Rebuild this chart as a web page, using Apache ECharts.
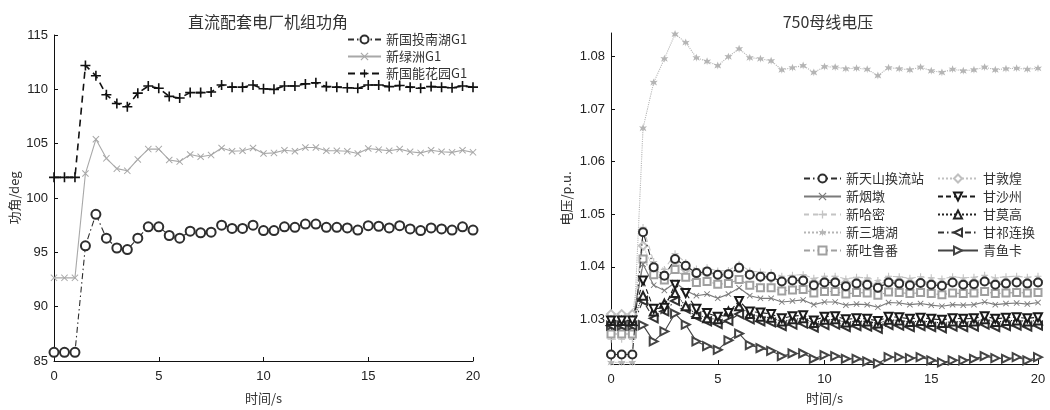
<!DOCTYPE html>
<html>
<head>
<meta charset="utf-8">
<script src="https://cdn.jsdelivr.net/npm/echarts@6/dist/echarts.min.js"></script>
<style>html,body{margin:0;padding:0;background:#fff}#c{width:1050px;height:410px}</style>
</head>
<body>
<div id="c"></div>
<script>
// ---------- data ----------
const times = [0,0.5,1,1.5,2,2.5,3,3.5,4,4.5,5,5.5,6,6.5,7,7.5,8,8.5,9,9.5,10,10.5,11,11.5,12,12.5,13,13.5,14,14.5,15,15.5,16,16.5,17,17.5,18,18.5,19,19.5,20];
const xTicks = [0,5,10,15,20];
const leftYTicks = [85,90,95,100,105,110,115];
const rightYTicks = [1.03,1.04,1.05,1.06,1.07,1.08];

const leftTitle = '直流配套电厂机组功角';
const rightTitle = '750母线电压';
const leftNames = ['新国投南湖G1','新绿洲G1','新国能花园G1'];
const rightNamesCol1 = ['新天山换流站','新烟墩','新哈密','新三塘湖','新吐鲁番'];
const rightNamesCol2 = ['甘敦煌','甘沙州','甘莫高','甘祁连换','青鱼卡'];

const nanhu = [85.8,85.8,85.8,95.6,98.5,96.3,95.4,95.25,96.3,97.35,97.35,96.55,96.3,96.95,96.8,96.85,97.5,97.2,97.2,97.5,97.0,97.0,97.35,97.3,97.6,97.6,97.3,97.3,97.25,97.05,97.45,97.4,97.25,97.45,97.15,97.0,97.25,97.15,97.05,97.35,97.05];
const lvzhou = [92.65,92.65,92.65,102.25,105.4,103.65,102.7,102.5,103.55,104.5,104.5,103.5,103.35,104.0,103.8,103.95,104.6,104.3,104.35,104.6,104.1,104.15,104.4,104.3,104.65,104.65,104.35,104.35,104.3,104.1,104.55,104.45,104.35,104.5,104.25,104.15,104.4,104.25,104.2,104.4,104.2];
const huayuan = [101.9,101.9,101.9,112.2,111.25,109.5,108.7,108.4,109.65,110.3,110.1,109.35,109.2,109.7,109.7,109.75,110.4,110.2,110.2,110.4,110.05,110.0,110.3,110.3,110.5,110.6,110.25,110.2,110.15,110.1,110.4,110.4,110.25,110.35,110.2,110.1,110.25,110.2,110.15,110.3,110.2];

const tianshan = [1.0233,1.0233,1.0233,1.0466,1.0399,1.0383,1.0415,1.0402,1.0388,1.0391,1.0385,1.0386,1.0398,1.0385,1.0381,1.0381,1.0372,1.0374,1.0374,1.0365,1.0370,1.0370,1.0363,1.0368,1.0366,1.0360,1.0370,1.0368,1.0365,1.0369,1.0366,1.0364,1.0370,1.0366,1.0367,1.0372,1.0366,1.0368,1.0370,1.0368,1.0370];
const yandun = [1.0295,1.0295,1.0295,1.0405,1.0365,1.0355,1.0370,1.0355,1.0345,1.0348,1.0340,1.0348,1.0360,1.0345,1.0340,1.0340,1.0333,1.0335,1.0337,1.0328,1.0333,1.0333,1.0327,1.0329,1.0328,1.0323,1.0332,1.0331,1.0328,1.0330,1.0327,1.0325,1.0328,1.0327,1.0328,1.0333,1.0328,1.0330,1.0331,1.0329,1.0332];
const hami = [1.0262,1.0262,1.0262,1.0475,1.0410,1.0395,1.0425,1.0408,1.0396,1.0398,1.0392,1.0393,1.0405,1.0392,1.0390,1.0389,1.0382,1.0384,1.0385,1.0378,1.0382,1.0382,1.0377,1.0380,1.0379,1.0374,1.0382,1.0381,1.0378,1.0381,1.0379,1.0377,1.0381,1.0379,1.0380,1.0384,1.0379,1.0381,1.0382,1.0380,1.0382];
const santanghu = [1.0218,1.0218,1.0218,1.0664,1.0751,1.0796,1.0843,1.0827,1.0798,1.0791,1.0783,1.0800,1.0815,1.0798,1.0796,1.0792,1.0775,1.0779,1.0783,1.0770,1.0781,1.0780,1.0777,1.0778,1.0776,1.0764,1.0779,1.0777,1.0775,1.0780,1.0773,1.0770,1.0776,1.0773,1.0775,1.0780,1.0775,1.0777,1.0778,1.0776,1.0778];
const turpan = [1.0272,1.0272,1.0272,1.0415,1.0385,1.0375,1.0395,1.0380,1.0370,1.0372,1.0367,1.0368,1.0376,1.0365,1.0360,1.0360,1.0354,1.0356,1.0357,1.0350,1.0353,1.0353,1.0348,1.0351,1.0350,1.0346,1.0352,1.0351,1.0349,1.0351,1.0349,1.0347,1.0350,1.0349,1.0350,1.0353,1.0349,1.0350,1.0351,1.0350,1.0351];
const dunhuang = [1.0310,1.0310,1.0310,1.0440,1.0395,1.0385,1.0410,1.0395,1.0385,1.0387,1.0382,1.0383,1.0400,1.0385,1.0380,1.0378,1.0372,1.0375,1.0376,1.0370,1.0374,1.0374,1.0369,1.0372,1.0371,1.0366,1.0374,1.0373,1.0370,1.0372,1.0370,1.0368,1.0372,1.0370,1.0371,1.0375,1.0370,1.0372,1.0373,1.0371,1.0373];
const shazhou = [1.0298,1.0298,1.0298,1.0374,1.0320,1.0322,1.0366,1.0350,1.0320,1.0312,1.0305,1.0312,1.0335,1.0315,1.0313,1.0310,1.0302,1.0306,1.0308,1.0298,1.0305,1.0306,1.0300,1.0302,1.0301,1.0297,1.0305,1.0304,1.0301,1.0303,1.0301,1.0299,1.0302,1.0301,1.0302,1.0306,1.0301,1.0303,1.0304,1.0302,1.0304];
const mogao = [1.0297,1.0297,1.0297,1.0345,1.0315,1.0330,1.0350,1.0325,1.0310,1.0302,1.0300,1.0315,1.0325,1.0310,1.0305,1.0303,1.0296,1.0300,1.0302,1.0293,1.0299,1.0300,1.0294,1.0297,1.0296,1.0292,1.0299,1.0298,1.0295,1.0297,1.0295,1.0293,1.0296,1.0295,1.0296,1.0300,1.0295,1.0297,1.0298,1.0296,1.0298];
const qilian = [1.0288,1.0288,1.0288,1.0335,1.0302,1.0315,1.0335,1.0320,1.0305,1.0296,1.0291,1.0297,1.0310,1.0300,1.0296,1.0294,1.0287,1.0290,1.0292,1.0284,1.0289,1.0290,1.0285,1.0287,1.0286,1.0282,1.0289,1.0288,1.0285,1.0287,1.0285,1.0283,1.0286,1.0285,1.0286,1.0290,1.0285,1.0287,1.0288,1.0286,1.0288];
const qingyuka = [1.0288,1.0288,1.0288,1.0289,1.0258,1.0277,1.0311,1.0290,1.0258,1.0249,1.0242,1.0260,1.0273,1.0251,1.0245,1.0240,1.0230,1.0235,1.0235,1.0225,1.0232,1.0230,1.0225,1.0225,1.0220,1.0216,1.0228,1.0228,1.0226,1.0228,1.0222,1.0218,1.0222,1.0222,1.0225,1.0230,1.0226,1.0225,1.0228,1.0222,1.0228];

// ---------- styling ----------
const PLUS = 'path://M4.2,0H5.8V4.2H10V5.8H5.8V10H4.2V5.8H0V4.2H4.2Z';
const CROSS = 'path://M1,0L5,4L9,0L10,1L6,5L10,9L9,10L5,6L1,10L0,9L4,5L0,1Z';
const STAR = 'path://M5,0L6.3,3.4L10,2.8L7.6,5.3L9.2,8.8L5.8,7L5,10L4.2,7L0.8,8.8L2.4,5.3L0,2.8L3.7,3.4Z';
const DASHDOT = [6,3,1.5,3];
const FONT = '"Liberation Sans", Arial, sans-serif';
const CJK = '"Noto Sans CJK SC", sans-serif';

function pairs(arr){ return times.map((t,i)=>[t,arr[i]]); }

function mk(name, data, xi, color, lineType, symbol, size, opts){
  opts = opts || {};
  return {
    name, type:'line', xAxisIndex:xi, yAxisIndex:xi, data:pairs(data),
    symbol, symbolSize:size, showAllSymbol:true, symbolRotate: opts.rotate || 0,
    lineStyle:{color, width: opts.lw || 1.1, type: lineType},
    itemStyle:{color: opts.fill || color, borderColor: color, borderWidth: opts.bw != null ? opts.bw : 1.3},
    emphasis:{disabled:true}, z: opts.z || 2
  };
}

const series = [
  mk(leftNames[0], nanhu, 0, '#2e2e2e', DASHDOT, 'emptyCircle', 9, {bw:1.6}),
  mk(leftNames[1], lvzhou, 0, '#a8a8a8', 'solid', CROSS, 7, {bw:0}),
  mk(leftNames[2], huayuan, 0, '#111111', [7,5], PLUS, 10, {bw:0, lw:1.6}),

  mk(rightNamesCol1[3], santanghu, 1, '#b5b5b5', 'dotted', STAR, 8, {bw:0}),
  mk(rightNamesCol1[2], hami, 1, '#c4c4c4', [5,4], PLUS, 7, {bw:0}),
  mk(rightNamesCol2[0], dunhuang, 1, '#c0c0c0', 'dotted', 'emptyDiamond', 8, {bw:1}),
  mk(rightNamesCol1[4], turpan, 1, '#a0a0a0', DASHDOT, 'emptyRect', 7, {bw:1.1}),
  mk(rightNamesCol1[1], yandun, 1, '#7a7a7a', 'solid', CROSS, 6, {bw:0}),
  mk(rightNamesCol1[0], tianshan, 1, '#2e2e2e', DASHDOT, 'emptyCircle', 8, {bw:1.5, z:3}),
  mk(rightNamesCol2[4], qingyuka, 1, '#444444', 'solid', 'emptyTriangle', 8, {bw:1.2, rotate:-90}),
  mk(rightNamesCol2[3], qilian, 1, '#333333', DASHDOT, 'emptyTriangle', 8, {bw:1.2, rotate:90}),
  mk(rightNamesCol2[2], mogao, 1, '#222222', 'dotted', 'emptyTriangle', 8, {bw:1.3}),
  mk(rightNamesCol2[1], shazhou, 1, '#1a1a1a', [5,3], 'emptyTriangle', 8, {bw:1.3, rotate:180})
];

const axisCommon = {
  axisLine:{show:true, onZero:false, lineStyle:{color:'#111', width:1}},
  axisTick:{show:true, inside:true, length:4, lineStyle:{color:'#111'}},
  splitLine:{show:false},
  axisLabel:{color:'#222', fontFamily:FONT, fontSize:13},
  nameTextStyle:{color:'#333', fontFamily:CJK, fontSize:13}
};

const legendText = {fontFamily:CJK, fontSize:13, color:'#333', lineHeight:13};

const option = {
  animation:false,
  backgroundColor:'#fff',
  title:[
    {text:leftTitle, left:263, top:9, textAlign:'center', textStyle:{fontFamily:CJK, fontSize:16, fontWeight:'normal', color:'#333'}},
    {text:rightTitle, left:823, top:9, textAlign:'center', textStyle:{fontFamily:CJK, fontSize:16, fontWeight:'normal', color:'#333'}}
  ],
  grid:[
    {left:54, top:35, width:419, height:333},
    {left:611, top:33, width:427, height:333}
  ],
  xAxis:[
    Object.assign({}, axisCommon, {type:'value', gridIndex:0, min:0, max:20, interval:5, name:'时间/s', nameLocation:'middle', nameGap:31,
      axisLabel:Object.assign({}, axisCommon.axisLabel, {customValues:xTicks, margin:9})}),
    Object.assign({}, axisCommon, {type:'value', gridIndex:1, min:0, max:20, interval:5, name:'时间/s', nameLocation:'middle', nameGap:28,
      axisLabel:Object.assign({}, axisCommon.axisLabel, {customValues:xTicks, margin:9})})
  ],
  yAxis:[
    Object.assign({}, axisCommon, {type:'value', gridIndex:0, min:85, max:115, interval:5, name:'功角/deg', nameLocation:'middle', nameGap:33,
      axisLabel:Object.assign({}, axisCommon.axisLabel, {customValues:leftYTicks, margin:6})}),
    Object.assign({}, axisCommon, {type:'value', gridIndex:1, min:1.0215, max:1.0845, name:'电压/p.u.', nameLocation:'middle', nameGap:38,
      axisLabel:Object.assign({}, axisCommon.axisLabel, {customValues:rightYTicks, margin:6, formatter:(v)=>v.toFixed(2)}),
      axisTick:Object.assign({}, axisCommon.axisTick, {customValues:rightYTicks})})
  ],
  legend:[
    {data:leftNames, orient:'vertical', left:347, top:33, padding:0, itemWidth:33, itemHeight:10, itemGap:4, textStyle:legendText},
    {data:rightNamesCol1, orient:'vertical', left:803, top:172, padding:0, itemWidth:37, itemHeight:10, itemGap:5, textStyle:legendText},
    {data:rightNamesCol2, orient:'vertical', left:937, top:172, padding:0, itemWidth:40, itemHeight:10, itemGap:5, textStyle:legendText}
  ],
  series
};

const chart = echarts.init(document.getElementById('c'), null, {renderer:'canvas'});
chart.setOption(option);
</script>
</body>
</html>
